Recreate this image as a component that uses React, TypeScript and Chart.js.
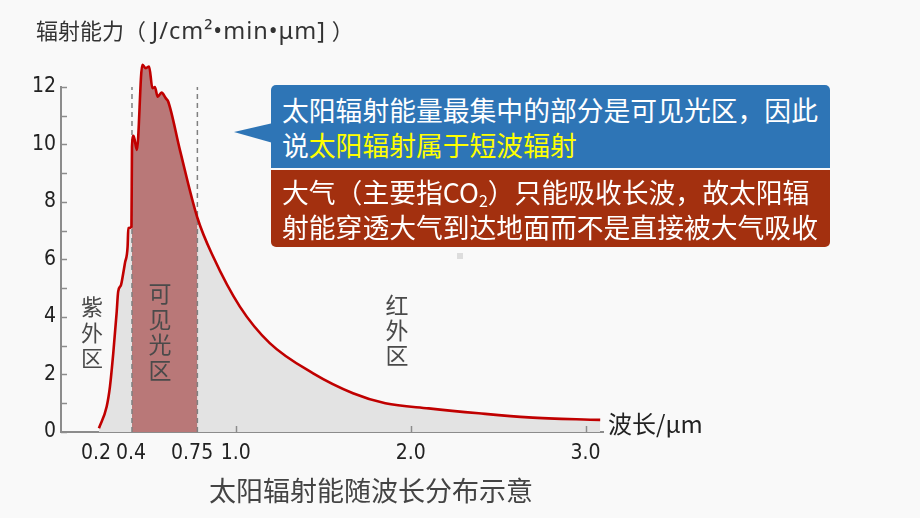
import React, { useEffect, useRef } from "react";
import { Chart, registerables } from "chart.js";

Chart.register(...registerables);

// wavelength (μm) and radiation (J/cm²·min·μm)
const wavelengths = [
  0.217, 0.261, 0.28, 0.299, 0.318, 0.327, 0.343, 0.356, 0.366, 0.381, 0.385, 0.403,
  0.406, 0.415, 0.434, 0.465, 0.485, 0.504, 0.523, 0.537, 0.553, 0.575, 0.6, 0.613,
  0.68, 0.78, 0.87, 1.023, 1.194, 1.442, 1.67, 1.855, 2.103, 2.389, 2.674, 3.084,
];
const radiation = [
  0.13, 0.88, 1.58, 2.74, 4.13, 4.88, 5.11, 5.52, 5.88, 6.45, 7.09, 7.14,
  9.92, 10.3, 9.81, 12.77, 12.65, 12.71, 11.95, 11.99, 11.66, 11.8, 11.6, 11.49,
  9.81, 7.45, 6.1, 4.36, 3.09, 2.04, 1.35, 1.0, 0.82, 0.65, 0.51, 0.42,
];
const visibleBand = [0.406, 0.78];
const axisTop = 12;
const xTickValues = [0.2, 0.4, 0.75, 1.0, 2.0, 3.0];
const xTickLabels = ["0.2", "0.4", "0.75", "1.0", "2.0", "3.0"];
const yTickValues = [0, 2, 4, 6, 8, 10, 12];
const yMinorTicks = [0, 1, 2, 3, 4, 5, 6, 7, 8, 9, 10, 11, 12];
const xMinorTicks = [1, 2, 3];

const regionUV = ["紫", "外", "区"];
const regionVisible = ["可", "见", "光", "区"];
const regionIR = ["红", "外", "区"];

const CJK = '"Noto Sans CJK SC", "Noto Sans", sans-serif';
const LATIN_CJK = '"Noto Sans", "Noto Sans CJK SC", sans-serif';
const NARROW = '"Liberation Sans Narrow", "DejaVu Sans Condensed", "Liberation Sans", sans-serif';

const axisDecor = {
  id: "axisDecor",
  afterDatasetsDraw(chart: any) {
    const { ctx, chartArea } = chart;
    const xs = chart.scales.x;
    const ys = chart.scales.y;
    ctx.save();
    ctx.strokeStyle = "#8c8c8c";
    ctx.lineWidth = 2;
    ctx.beginPath();
    ctx.moveTo(chartArea.left, ys.getPixelForValue(0) + 1);
    ctx.lineTo(chartArea.left, ys.getPixelForValue(axisTop) - 1);
    ctx.stroke();
    ctx.lineWidth = 1.5;
    yMinorTicks.forEach((v) => {
      const py = Math.round(ys.getPixelForValue(v)) + 0.5;
      ctx.beginPath();
      ctx.moveTo(chartArea.left, py);
      ctx.lineTo(chartArea.left + 6, py);
      ctx.stroke();
    });
    xMinorTicks.forEach((v) => {
      const px = Math.round(xs.getPixelForValue(v)) + 0.5;
      ctx.beginPath();
      ctx.moveTo(px, chartArea.bottom);
      ctx.lineTo(px, chartArea.bottom - 6);
      ctx.stroke();
    });
    ctx.restore();
  },
};

function VerticalLabel({ chars, left, top, size, step }: any) {
  return (
    <div
      style={{
        position: "absolute",
        left,
        top,
        width: 30,
        textAlign: "center",
        fontFamily: CJK,
        fontSize: size,
        lineHeight: step + "px",
        color: "#4a4a4a",
      }}
    >
      {chars.map((c: string, i: number) => (
        <div key={i}>{c}</div>
      ))}
    </div>
  );
}

export default function App() {
  const ref = useRef<HTMLCanvasElement>(null);

  useEffect(() => {
    const points = wavelengths.map((x, i) => ({ x, y: radiation[i] }));
    const band = points.filter((p) => p.x >= visibleBand[0] && p.x <= visibleBand[1]);
    const chart = new Chart(ref.current as HTMLCanvasElement, {
      type: "line",
      data: {
        datasets: [
          {
            label: "area",
            data: points,
            borderWidth: 0,
            backgroundColor: "#e3e3e3",
            fill: "origin",
            pointRadius: 0,
            cubicInterpolationMode: "monotone",
            order: 5,
          } as any,
          {
            label: "visible",
            data: band,
            borderWidth: 0,
            backgroundColor: "#b97878",
            fill: "origin",
            pointRadius: 0,
            cubicInterpolationMode: "monotone",
            order: 4,
          },
          {
            label: "v1",
            data: [
              { x: visibleBand[0], y: 0 },
              { x: visibleBand[0], y: axisTop },
            ],
            borderColor: "#808080",
            borderWidth: 1.5,
            borderDash: [5, 4],
            pointRadius: 0,
            fill: false,
            order: 3,
          },
          {
            label: "v2",
            data: [
              { x: visibleBand[1], y: 0 },
              { x: visibleBand[1], y: axisTop },
            ],
            borderColor: "#808080",
            borderWidth: 1.5,
            borderDash: [5, 4],
            pointRadius: 0,
            fill: false,
            order: 2,
          },
          {
            label: "curve",
            data: points,
            borderColor: "#c00000",
            borderWidth: 2.6,
            borderJoinStyle: "round",
            fill: false,
            pointRadius: 0,
            cubicInterpolationMode: "monotone",
            order: 1,
          },
        ],
      },
      options: {
        animation: false,
        responsive: false,
        events: [],
        layout: { padding: { left: 0, top: 61, right: 317, bottom: 0 } },
        plugins: { legend: { display: false }, tooltip: { enabled: false } },
        scales: {
          x: {
            type: "linear",
            min: 0,
            max: 3.1,
            z: 1,
            afterBuildTicks: (s: any) => {
              s.ticks = xTickValues.map((v) => ({ value: v }));
            },
            afterFit: (s: any) => {
              s.height = 86;
            },
            ticks: {
              autoSkip: false,
              maxRotation: 0,
              minRotation: 0,
              padding: 9,
              color: "#222",
              font: { family: NARROW, size: 21 },
              callback: (_v: any, i: number) => xTickLabels[i],
            },
            grid: { display: false, drawTicks: false },
            border: { display: true, color: "#8c8c8c", width: 2 },
          },
          y: {
            type: "linear",
            min: 0,
            max: 12.9,
            afterBuildTicks: (s: any) => {
              s.ticks = yTickValues.map((v) => ({ value: v }));
            },
            afterFit: (s: any) => {
              s.width = 61;
            },
            ticks: {
              padding: 5,
              color: "#222",
              font: { family: NARROW, size: 21 },
              callback: (v: any) => String(v),
            },
            grid: { display: false, drawTicks: false },
            border: { display: false },
          },
        },
      },
      plugins: [axisDecor],
    } as any);
    return () => chart.destroy();
  }, []);

  return (
    <div
      style={{
        position: "fixed",
        left: 0,
        top: 0,
        width: 920,
        height: 518,
        background: "#f9f9f9",
        overflow: "hidden",
      }}
    >
      <canvas ref={ref} width={920} height={518} style={{ position: "absolute", left: 0, top: 0 }} />

      <div
        style={{
          position: "absolute",
          left: 36,
          top: 15,
          fontFamily: LATIN_CJK,
          fontSize: 22,
          lineHeight: "30px",
          color: "#333",
          whiteSpace: "nowrap",
        }}
      >
        辐射能力（ <span style={{ fontSize: 23.5, letterSpacing: 1 }}>J/cm²•min•μm]</span> ）
      </div>

      <VerticalLabel chars={regionUV} left={77} top={293} size={22} step={25.5} />
      <VerticalLabel chars={regionVisible} left={145} top={280} size={23} step={25.7} />
      <VerticalLabel chars={regionIR} left={382} top={292} size={23} step={25} />

      <div
        style={{
          position: "absolute",
          left: 608,
          top: 408,
          fontFamily: CJK,
          fontSize: 24,
          lineHeight: "30px",
          color: "#222",
          whiteSpace: "nowrap",
        }}
      >
        波长/μm
      </div>

      <div
        style={{
          position: "absolute",
          left: 209,
          top: 474,
          fontFamily: CJK,
          fontSize: 27,
          lineHeight: "32px",
          color: "#444",
          whiteSpace: "nowrap",
        }}
      >
        太阳辐射能随波长分布示意
      </div>

      <svg width={920} height={518} style={{ position: "absolute", left: 0, top: 0 }}>
        <polygon points="234,132 273,123 273,143" fill="#2e75b6" />
        <rect x={457} y={253} width={6} height={6} fill="#dddddd" />
      </svg>

      <div
        style={{
          position: "absolute",
          left: 271,
          top: 85,
          width: 559,
          height: 83,
          background: "#2e75b6",
          borderRadius: "5px 5px 0 0",
          boxSizing: "border-box",
          paddingLeft: 11,
          paddingTop: 7,
          fontFamily: CJK,
          fontSize: 26.8,
          lineHeight: "35px",
          color: "#ffffff",
          whiteSpace: "nowrap",
        }}
      >
        <div>太阳辐射能量最集中的部分是可见光区，因此</div>
        <div>
          说<span style={{ color: "#ffff00" }}>太阳辐射属于短波辐射</span>
        </div>
      </div>

      <div
        style={{
          position: "absolute",
          left: 271,
          top: 170,
          width: 559,
          height: 77,
          background: "#a3300f",
          borderRadius: "0 0 5px 5px",
          boxSizing: "border-box",
          paddingLeft: 11,
          paddingTop: 4,
          fontFamily: CJK,
          fontSize: 26.8,
          lineHeight: "35px",
          color: "#ffffff",
          whiteSpace: "nowrap",
        }}
      >
        <div>
          大气（主要指CO<sub style={{ fontSize: 16, verticalAlign: "-4px", lineHeight: 0 }}>2</sub>）只能吸收长波，故太阳辐
        </div>
        <div>射能穿透大气到达地面而不是直接被大气吸收</div>
      </div>
    </div>
  );
}
